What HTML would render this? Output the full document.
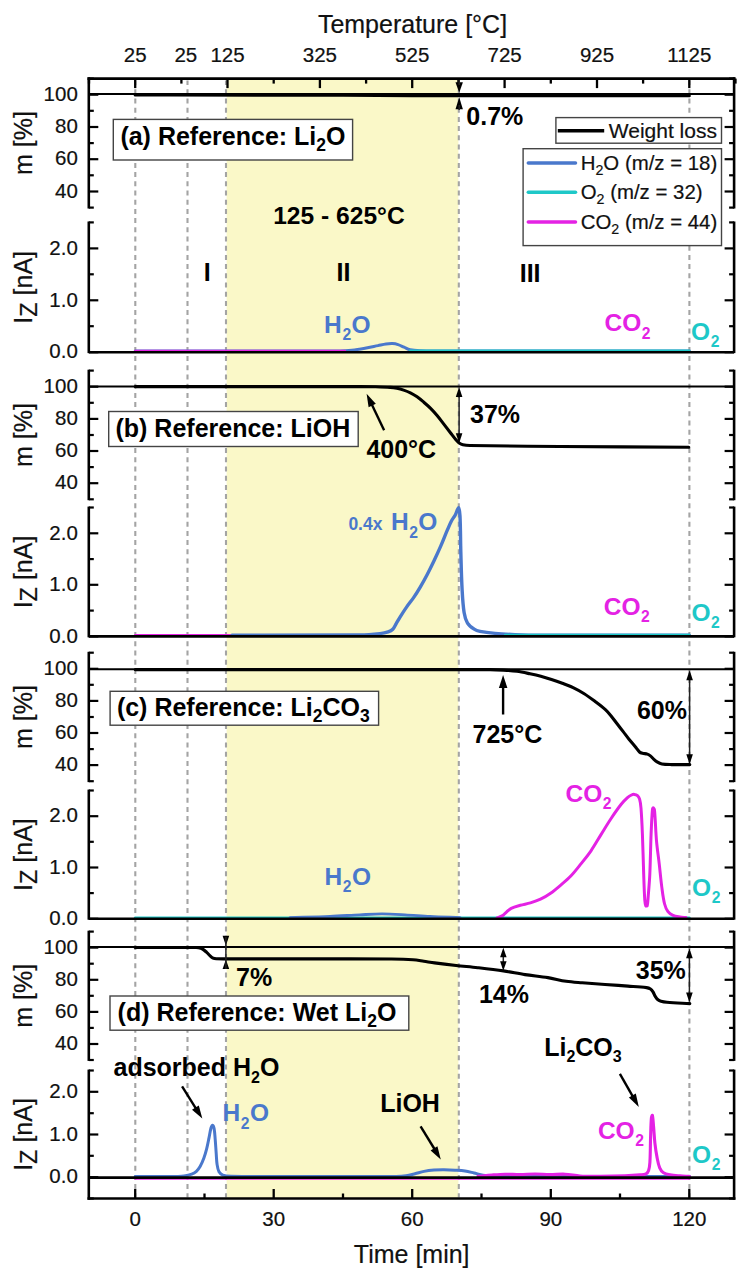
<!DOCTYPE html>
<html><head><meta charset="utf-8"><style>
html,body{margin:0;padding:0;background:#fff;}
body{width:743px;height:1280px;overflow:hidden;}
svg{display:block;font-family:"Liberation Sans",sans-serif;}
</style></head><body>
<svg width="743" height="1280" viewBox="0 0 743 1280">
<rect width="743" height="1280" fill="#fff"/>
<rect x="226.6" y="78.6" width="231.8" height="1119.9" fill="#FAF8C8"/>
<line x1="135.3" y1="80.6" x2="135.3" y2="1197.5" stroke="#a4a4a4" stroke-width="2.1" stroke-dasharray="5 4.2" stroke-dashoffset="0.5"/>
<line x1="187.5" y1="80.6" x2="187.5" y2="1197.5" stroke="#a4a4a4" stroke-width="2.1" stroke-dasharray="5 4.2" stroke-dashoffset="0.5"/>
<line x1="226.0" y1="80.6" x2="226.0" y2="1197.5" stroke="#a4a4a4" stroke-width="2.1" stroke-dasharray="5 4.2" stroke-dashoffset="0.5"/>
<line x1="458.8" y1="80.6" x2="458.8" y2="1197.5" stroke="#a4a4a4" stroke-width="2.1" stroke-dasharray="5 4.2" stroke-dashoffset="0.5"/>
<line x1="689.4" y1="80.6" x2="689.4" y2="1197.5" stroke="#a4a4a4" stroke-width="2.1" stroke-dasharray="5 4.2" stroke-dashoffset="0.5"/>
<path d="M135.2,351.0 C203.47,351.00 271.74,351.25 340.0,351.0 C344.01,350.99 348.02,350.65 352.0,350.2 C356.35,349.71 360.68,348.96 365.0,348.2 C369.35,347.43 373.67,346.47 378.0,345.6 C380.67,345.07 383.31,344.37 386.0,344.0 C388.18,343.70 390.41,343.49 392.6,343.6 C394.41,343.69 396.27,344.05 398.0,344.6 C400.07,345.25 402.00,346.33 404.0,347.2 C406.00,348.07 407.90,349.33 410.0,349.8 C413.23,350.53 416.66,350.67 420.0,350.8 C426.66,351.07 433.33,351.00 440.0,351.0 C523.10,351.06 606.20,351.00 689.3,351.0" fill="none" stroke="#4A78CC" stroke-width="3.0" stroke-linejoin="round" stroke-linecap="round" />
<path d="M135.2,351.0 L345.0,351.0" fill="none" stroke="#E422E4" stroke-width="2.4" stroke-linejoin="round" stroke-linecap="round" />
<path d="M410.0,350.8 L689.3,350.8" fill="none" stroke="#1EC8C8" stroke-width="2.4" stroke-linejoin="round" stroke-linecap="round" />
<path d="M135.2,635.2 L232.0,635.2" fill="none" stroke="#E422E4" stroke-width="2.4" stroke-linejoin="round" stroke-linecap="round" />
<path d="M232.0,635.2 C274.67,635.13 317.35,635.46 360.0,635.0 C366.68,634.93 373.37,634.33 380.0,633.6 C382.74,633.30 385.52,632.79 388.1,631.9 C389.79,631.32 391.58,630.45 392.8,629.2 C394.28,627.69 395.08,625.48 396.2,623.6 C397.55,621.34 398.80,619.02 400.2,616.8 C402.37,613.36 404.57,609.93 406.9,606.6 C409.04,603.53 411.49,600.69 413.6,597.6 C415.99,594.09 418.24,590.46 420.4,586.8 C422.74,582.83 424.96,578.78 427.1,574.7 C429.43,570.25 431.64,565.73 433.8,561.2 C436.14,556.30 438.43,551.38 440.6,546.4 C442.93,541.04 445.02,535.58 447.3,530.2 C448.58,527.18 449.78,524.10 451.3,521.2 C452.48,518.94 454.19,516.95 455.4,514.7 C456.62,512.42 457.88,507.36 458.6,507.6 C459.41,507.86 459.85,513.30 460.0,516.2 C460.59,527.84 460.47,539.54 460.8,551.2 C461.17,563.97 461.41,576.75 462.1,589.5 C462.51,597.15 462.89,604.88 464.1,612.4 C464.69,616.08 465.64,620.00 467.5,623.1 C469.00,625.60 471.73,627.56 474.2,629.2 C475.89,630.32 477.98,630.99 480.0,631.4 C484.92,632.39 489.98,632.94 495.0,633.4 C501.65,634.01 508.33,634.33 515.0,634.6 C523.33,634.93 531.66,635.17 540.0,635.2 C589.76,635.37 639.53,635.20 689.3,635.2" fill="none" stroke="#4A78CC" stroke-width="3.4" stroke-linejoin="round" stroke-linecap="round" />
<path d="M505.0,634.9 L689.3,634.9" fill="none" stroke="#1EC8C8" stroke-width="2.4" stroke-linejoin="round" stroke-linecap="round" />
<path d="M135.2,917.6 L689.3,917.6" fill="none" stroke="#1EC8C8" stroke-width="2.4" stroke-linejoin="round" stroke-linecap="round" />
<path d="M290.0,917.6 C303.33,917.20 316.67,916.93 330.0,916.4 C340.01,916.00 350.00,915.28 360.0,914.8 C367.33,914.45 374.67,913.90 382.0,913.9 C389.67,913.90 397.34,914.40 405.0,914.8 C413.34,915.23 421.66,915.98 430.0,916.4 C439.99,916.91 450.00,917.20 460.0,917.6" fill="none" stroke="#4A78CC" stroke-width="2.8" stroke-linejoin="round" stroke-linecap="round" />
<path d="M497.0,917.8 C499.00,917.00 501.18,916.49 503.0,915.4 C504.25,914.65 505.08,913.27 506.2,912.3 C507.81,910.90 509.32,909.23 511.2,908.3 C514.02,906.90 517.23,906.16 520.3,905.3 C523.63,904.36 527.09,903.90 530.4,902.9 C533.83,901.87 537.28,900.75 540.5,899.2 C544.01,897.51 547.40,895.44 550.6,893.2 C554.13,890.74 557.42,887.90 560.7,885.1 C564.15,882.16 567.68,879.27 570.8,876.0 C574.42,872.21 577.61,868.00 580.9,863.9 C584.35,859.60 587.89,855.34 591.0,850.8 C594.59,845.57 597.65,839.99 601.0,834.6 C604.35,829.22 607.59,823.77 611.1,818.5 C614.32,813.67 617.61,808.85 621.2,804.3 C623.08,801.92 625.25,799.73 627.5,797.7 C628.69,796.63 630.08,795.69 631.5,795.0 C632.34,794.59 633.39,794.29 634.3,794.4 C635.39,794.53 636.69,794.97 637.5,795.7 C638.46,796.57 639.24,797.91 639.6,799.2 C640.41,802.08 640.76,805.18 641.0,808.2 C641.69,816.78 642.05,825.39 642.4,834.0 C642.95,847.46 643.21,860.94 643.7,874.4 C644.01,883.00 644.23,891.62 644.8,900.2 C644.93,902.09 645.16,904.30 645.8,905.8 C645.96,906.17 647.10,906.21 647.2,905.8 C647.94,902.68 648.01,898.74 648.3,895.2 C648.87,888.27 649.48,881.34 649.8,874.4 C650.42,860.94 650.55,847.46 651.1,834.0 C651.42,826.06 651.74,818.09 652.4,810.2 C652.47,809.35 652.96,807.80 653.3,807.8 C653.66,807.80 654.41,809.31 654.5,810.2 C655.48,820.31 655.60,830.62 656.5,840.8 C657.17,848.42 658.33,856.00 659.2,863.6 C660.13,871.70 660.82,879.82 661.9,887.9 C662.62,893.29 663.26,898.77 664.6,904.0 C665.29,906.70 666.39,909.51 668.0,911.7 C669.19,913.31 671.14,914.58 673.0,915.4 C675.14,916.35 677.64,916.60 680.0,917.0 C681.98,917.33 684.00,917.40 686.0,917.6" fill="none" stroke="#E422E4" stroke-width="3.0" stroke-linejoin="round" stroke-linecap="round" />
<path d="M135.2,1178.8 L689.3,1178.8" fill="none" stroke="#E422E4" stroke-width="2.0" stroke-linejoin="round" stroke-linecap="round" />
<path d="M135.2,1176.4 C149.47,1176.40 163.74,1176.52 178.0,1176.4 C180.04,1176.38 182.10,1176.34 184.1,1176.0 C186.67,1175.57 189.29,1175.02 191.7,1174.1 C193.39,1173.46 195.06,1172.49 196.4,1171.3 C197.86,1169.99 199.12,1168.32 200.1,1166.6 C201.62,1163.92 202.83,1161.01 203.9,1158.1 C205.03,1155.04 205.90,1151.87 206.7,1148.7 C207.64,1144.97 208.32,1141.17 209.1,1137.4 C209.75,1134.27 210.13,1131.04 211.0,1128.0 C211.29,1126.98 212.11,1125.12 212.6,1125.2 C213.15,1125.29 213.88,1127.32 214.1,1128.5 C214.75,1132.02 214.90,1135.69 215.2,1139.3 C215.60,1143.99 215.85,1148.70 216.2,1153.4 C216.48,1157.13 216.54,1160.91 217.1,1164.6 C217.47,1167.04 217.87,1169.71 219.0,1171.8 C219.77,1173.21 221.28,1174.55 222.8,1175.1 C225.35,1176.02 228.38,1176.15 231.2,1176.2 C254.11,1176.59 277.07,1176.37 300.0,1176.4 C332.00,1176.44 364.01,1176.58 396.0,1176.4 C399.34,1176.38 402.70,1176.25 406.0,1175.8 C409.04,1175.38 412.02,1174.53 415.0,1173.8 C418.02,1173.06 420.96,1171.99 424.0,1171.4 C427.29,1170.76 430.65,1170.37 434.0,1170.1 C437.32,1169.83 440.67,1169.78 444.0,1169.8 C447.67,1169.82 451.34,1169.99 455.0,1170.2 C458.34,1170.39 461.70,1170.51 465.0,1171.0 C468.03,1171.45 471.01,1172.30 474.0,1173.0 C477.01,1173.70 479.96,1174.71 483.0,1175.2 C486.96,1175.84 490.98,1176.38 495.0,1176.4 C559.75,1176.78 624.53,1176.40 689.3,1176.4" fill="none" stroke="#4A78CC" stroke-width="3.0" stroke-linejoin="round" stroke-linecap="round" />
<path d="M478.0,1176.4 C482.67,1175.93 487.33,1175.38 492.0,1175.0 C496.33,1174.65 500.66,1174.26 505.0,1174.2 C510.00,1174.13 515.00,1174.63 520.0,1174.6 C525.00,1174.57 530.00,1174.00 535.0,1174.0 C540.00,1174.00 545.00,1174.57 550.0,1174.6 C555.00,1174.63 560.02,1173.97 565.0,1174.2 C570.02,1174.43 574.98,1175.70 580.0,1176.0 C586.65,1176.40 593.33,1176.33 600.0,1176.3 C608.33,1176.26 616.67,1176.11 625.0,1175.8 C630.01,1175.61 635.02,1175.27 640.0,1174.8 C642.02,1174.61 644.32,1174.66 646.0,1173.8 C647.18,1173.19 648.15,1171.71 648.6,1170.4 C649.45,1167.91 649.74,1165.09 649.9,1162.4 C650.41,1153.76 650.31,1145.06 650.6,1136.4 C650.81,1130.23 650.88,1124.01 651.4,1117.9 C651.48,1117.01 652.26,1114.83 652.4,1115.4 C652.99,1117.83 653.25,1123.06 653.6,1126.9 C654.09,1132.30 654.29,1137.72 654.9,1143.1 C655.43,1147.79 656.10,1152.47 657.0,1157.1 C657.70,1160.71 658.31,1164.47 659.7,1167.8 C660.48,1169.67 661.87,1171.59 663.5,1172.7 C665.30,1173.92 667.78,1174.37 670.0,1174.8 C673.28,1175.44 676.66,1175.62 680.0,1175.9 C683.09,1176.16 686.20,1176.23 689.3,1176.4" fill="none" stroke="#E422E4" stroke-width="3.1" stroke-linejoin="round" stroke-linecap="round" />
<line x1="88.8" y1="352.2" x2="734.1" y2="352.2" stroke="#000" stroke-width="2.6"/>
<line x1="88.8" y1="636.4" x2="734.1" y2="636.4" stroke="#000" stroke-width="2.6"/>
<line x1="88.8" y1="918.8" x2="734.1" y2="918.8" stroke="#000" stroke-width="2.6"/>
<line x1="88.8" y1="1177.6" x2="734.1" y2="1177.6" stroke="#000" stroke-width="2.6"/>
<line x1="88.8" y1="94.0" x2="734.1" y2="94.0" stroke="#000" stroke-width="2.1"/>
<line x1="88.8" y1="386.5" x2="734.1" y2="386.5" stroke="#000" stroke-width="2.1"/>
<line x1="88.8" y1="669.3" x2="734.1" y2="669.3" stroke="#000" stroke-width="2.1"/>
<line x1="88.8" y1="947.0" x2="734.1" y2="947.0" stroke="#000" stroke-width="2.1"/>
<path d="M135.2,95.0 C181.37,95.03 227.55,95.03 273.7,95.1 C296.81,95.13 319.90,95.22 343.0,95.3 C366.08,95.38 389.16,95.50 412.2,95.6 C427.64,95.67 443.03,95.79 458.4,95.8 C535.38,95.86 612.34,95.80 689.3,95.8" fill="none" stroke="#000" stroke-width="3.1" stroke-linejoin="round" stroke-linecap="round" />
<path d="M135.2,386.6 C210.13,386.60 285.07,386.54 360.0,386.6 C365.00,386.60 370.00,386.67 375.0,386.8 C380.07,386.93 385.15,387.05 390.2,387.4 C392.45,387.55 394.70,387.86 396.9,388.3 C399.16,388.76 401.41,389.37 403.6,390.1 C405.91,390.87 408.22,391.72 410.4,392.8 C412.72,393.95 414.98,395.31 417.1,396.8 C419.44,398.44 421.62,400.34 423.8,402.2 C426.12,404.17 428.45,406.15 430.6,408.3 C432.95,410.65 435.17,413.14 437.3,415.7 C439.64,418.51 441.76,421.50 444.0,424.4 C446.26,427.34 448.52,430.28 450.8,433.2 C452.55,435.44 454.24,437.75 456.1,439.9 C457.14,441.11 458.22,442.38 459.5,443.3 C460.49,444.01 461.70,444.55 462.9,444.8 C465.20,445.28 467.62,445.46 470.0,445.5 C499.99,446.03 530.00,446.25 560.0,446.5 C602.93,446.85 645.87,447.03 688.8,447.3" fill="none" stroke="#000" stroke-width="3.1" stroke-linejoin="round" stroke-linecap="round" />
<path d="M135.2,669.6 C253.47,669.60 371.74,669.44 490.0,669.6 C494.50,669.61 499.01,669.82 503.5,670.1 C507.97,670.38 512.46,670.68 516.9,671.3 C521.30,671.91 525.65,672.89 530.0,673.8 C533.62,674.56 537.23,675.35 540.8,676.3 C544.40,677.25 547.96,678.35 551.5,679.5 C555.13,680.68 558.73,681.96 562.3,683.3 C565.93,684.66 569.61,685.94 573.1,687.6 C576.77,689.34 580.36,691.34 583.8,693.5 C587.52,695.84 591.07,698.47 594.6,701.1 C598.27,703.84 602.00,706.55 605.4,709.6 C607.50,711.48 609.30,713.72 611.1,715.9 C613.20,718.45 615.08,721.18 617.1,723.8 C619.11,726.41 621.19,728.99 623.2,731.6 C625.22,734.22 627.14,736.91 629.2,739.5 C631.17,741.98 633.28,744.35 635.3,746.8 C636.72,748.52 637.89,750.55 639.5,752.0 C640.29,752.71 641.45,753.02 642.5,753.3 C644.09,753.72 645.86,753.59 647.4,754.1 C648.49,754.46 649.50,755.18 650.4,755.9 C651.50,756.78 652.35,757.96 653.4,758.9 C654.58,759.96 655.75,761.09 657.1,761.9 C658.58,762.79 660.21,763.68 661.9,764.0 C665.04,764.58 668.36,764.53 671.6,764.6 C677.66,764.73 683.73,764.60 689.8,764.6" fill="none" stroke="#000" stroke-width="3.1" stroke-linejoin="round" stroke-linecap="round" />
<path d="M135.2,947.5 C155.47,947.50 175.74,947.44 196.0,947.5 C196.87,947.50 197.76,947.50 198.6,947.7 C199.96,948.03 201.40,948.40 202.6,949.1 C204.10,949.97 205.39,951.24 206.7,952.4 C207.82,953.40 208.78,954.60 209.9,955.6 C210.91,956.50 211.92,957.51 213.1,958.1 C214.05,958.58 215.21,958.75 216.3,958.8 C220.85,959.02 225.43,958.89 230.0,958.9 C253.33,958.93 276.67,958.89 300.0,958.9 C330.50,958.92 361.00,958.78 391.5,959.0 C398.70,959.05 405.92,959.21 413.1,959.7 C416.69,959.94 420.24,960.67 423.8,961.2 C427.40,961.74 430.99,962.42 434.6,962.9 C441.75,963.85 448.93,964.70 456.1,965.5 C463.29,966.30 470.51,966.88 477.7,967.7 C486.31,968.68 494.93,969.65 503.5,970.9 C510.69,971.95 517.81,973.52 525.0,974.6 C532.61,975.75 540.31,976.37 547.9,977.6 C554.04,978.60 560.06,980.37 566.2,981.3 C571.49,982.10 576.86,982.36 582.2,982.8 C589.83,983.43 597.47,983.95 605.1,984.5 C612.73,985.05 620.37,985.53 628.0,986.1 C634.17,986.56 640.39,986.81 646.5,987.6 C647.89,987.78 649.35,988.26 650.5,989.0 C651.52,989.66 652.33,990.76 653.0,991.8 C653.96,993.29 654.46,995.09 655.4,996.6 C656.12,997.76 656.97,998.94 658.0,999.8 C658.84,1000.50 659.93,1001.00 661.0,1001.3 C662.90,1001.83 664.91,1002.14 666.9,1002.3 C674.51,1002.91 682.17,1003.17 689.8,1003.6" fill="none" stroke="#000" stroke-width="3.1" stroke-linejoin="round" stroke-linecap="round" />
<line x1="88.8" y1="77.3" x2="88.8" y2="208.5" stroke="#000" stroke-width="2.6"/>
<line x1="734.1" y1="77.3" x2="734.1" y2="208.5" stroke="#000" stroke-width="2.6"/>
<line x1="88.8" y1="191.5" x2="98.3" y2="191.5" stroke="#000" stroke-width="2.2"/>
<line x1="734.1" y1="191.5" x2="724.6" y2="191.5" stroke="#000" stroke-width="2.2"/>
<line x1="88.8" y1="159.2" x2="98.3" y2="159.2" stroke="#000" stroke-width="2.2"/>
<line x1="734.1" y1="159.2" x2="724.6" y2="159.2" stroke="#000" stroke-width="2.2"/>
<line x1="88.8" y1="127.0" x2="98.3" y2="127.0" stroke="#000" stroke-width="2.2"/>
<line x1="734.1" y1="127.0" x2="724.6" y2="127.0" stroke="#000" stroke-width="2.2"/>
<line x1="88.8" y1="94.7" x2="98.3" y2="94.7" stroke="#000" stroke-width="2.2"/>
<line x1="734.1" y1="94.7" x2="724.6" y2="94.7" stroke="#000" stroke-width="2.2"/>
<line x1="88.8" y1="207.6" x2="93.8" y2="207.6" stroke="#000" stroke-width="2.2"/>
<line x1="734.1" y1="207.6" x2="729.1" y2="207.6" stroke="#000" stroke-width="2.2"/>
<line x1="88.8" y1="175.3" x2="93.8" y2="175.3" stroke="#000" stroke-width="2.2"/>
<line x1="734.1" y1="175.3" x2="729.1" y2="175.3" stroke="#000" stroke-width="2.2"/>
<line x1="88.8" y1="143.1" x2="93.8" y2="143.1" stroke="#000" stroke-width="2.2"/>
<line x1="734.1" y1="143.1" x2="729.1" y2="143.1" stroke="#000" stroke-width="2.2"/>
<line x1="88.8" y1="110.8" x2="93.8" y2="110.8" stroke="#000" stroke-width="2.2"/>
<line x1="734.1" y1="110.8" x2="729.1" y2="110.8" stroke="#000" stroke-width="2.2"/>
<line x1="88.8" y1="78.6" x2="93.8" y2="78.6" stroke="#000" stroke-width="2.2"/>
<line x1="734.1" y1="78.6" x2="729.1" y2="78.6" stroke="#000" stroke-width="2.2"/>
<line x1="88.8" y1="221.5" x2="88.8" y2="353.1" stroke="#000" stroke-width="2.6"/>
<line x1="734.1" y1="221.5" x2="734.1" y2="353.1" stroke="#000" stroke-width="2.6"/>
<line x1="88.8" y1="352.2" x2="98.3" y2="352.2" stroke="#000" stroke-width="2.2"/>
<line x1="734.1" y1="352.2" x2="724.6" y2="352.2" stroke="#000" stroke-width="2.2"/>
<line x1="88.8" y1="300.3" x2="98.3" y2="300.3" stroke="#000" stroke-width="2.2"/>
<line x1="734.1" y1="300.3" x2="724.6" y2="300.3" stroke="#000" stroke-width="2.2"/>
<line x1="88.8" y1="248.4" x2="98.3" y2="248.4" stroke="#000" stroke-width="2.2"/>
<line x1="734.1" y1="248.4" x2="724.6" y2="248.4" stroke="#000" stroke-width="2.2"/>
<line x1="88.8" y1="326.2" x2="93.8" y2="326.2" stroke="#000" stroke-width="2.2"/>
<line x1="734.1" y1="326.2" x2="729.1" y2="326.2" stroke="#000" stroke-width="2.2"/>
<line x1="88.8" y1="274.3" x2="93.8" y2="274.3" stroke="#000" stroke-width="2.2"/>
<line x1="734.1" y1="274.3" x2="729.1" y2="274.3" stroke="#000" stroke-width="2.2"/>
<line x1="88.8" y1="222.4" x2="93.8" y2="222.4" stroke="#000" stroke-width="2.2"/>
<line x1="734.1" y1="222.4" x2="729.1" y2="222.4" stroke="#000" stroke-width="2.2"/>
<line x1="88.8" y1="369.7" x2="88.8" y2="500.2" stroke="#000" stroke-width="2.6"/>
<line x1="734.1" y1="369.7" x2="734.1" y2="500.2" stroke="#000" stroke-width="2.6"/>
<line x1="88.8" y1="483.2" x2="98.3" y2="483.2" stroke="#000" stroke-width="2.2"/>
<line x1="734.1" y1="483.2" x2="724.6" y2="483.2" stroke="#000" stroke-width="2.2"/>
<line x1="88.8" y1="451.0" x2="98.3" y2="451.0" stroke="#000" stroke-width="2.2"/>
<line x1="734.1" y1="451.0" x2="724.6" y2="451.0" stroke="#000" stroke-width="2.2"/>
<line x1="88.8" y1="418.9" x2="98.3" y2="418.9" stroke="#000" stroke-width="2.2"/>
<line x1="734.1" y1="418.9" x2="724.6" y2="418.9" stroke="#000" stroke-width="2.2"/>
<line x1="88.8" y1="386.7" x2="98.3" y2="386.7" stroke="#000" stroke-width="2.2"/>
<line x1="734.1" y1="386.7" x2="724.6" y2="386.7" stroke="#000" stroke-width="2.2"/>
<line x1="88.8" y1="499.3" x2="93.8" y2="499.3" stroke="#000" stroke-width="2.2"/>
<line x1="734.1" y1="499.3" x2="729.1" y2="499.3" stroke="#000" stroke-width="2.2"/>
<line x1="88.8" y1="467.1" x2="93.8" y2="467.1" stroke="#000" stroke-width="2.2"/>
<line x1="734.1" y1="467.1" x2="729.1" y2="467.1" stroke="#000" stroke-width="2.2"/>
<line x1="88.8" y1="435.0" x2="93.8" y2="435.0" stroke="#000" stroke-width="2.2"/>
<line x1="734.1" y1="435.0" x2="729.1" y2="435.0" stroke="#000" stroke-width="2.2"/>
<line x1="88.8" y1="402.8" x2="93.8" y2="402.8" stroke="#000" stroke-width="2.2"/>
<line x1="734.1" y1="402.8" x2="729.1" y2="402.8" stroke="#000" stroke-width="2.2"/>
<line x1="88.8" y1="370.6" x2="93.8" y2="370.6" stroke="#000" stroke-width="2.2"/>
<line x1="734.1" y1="370.6" x2="729.1" y2="370.6" stroke="#000" stroke-width="2.2"/>
<line x1="88.8" y1="506.6" x2="88.8" y2="637.3" stroke="#000" stroke-width="2.6"/>
<line x1="734.1" y1="506.6" x2="734.1" y2="637.3" stroke="#000" stroke-width="2.6"/>
<line x1="88.8" y1="636.4" x2="98.3" y2="636.4" stroke="#000" stroke-width="2.2"/>
<line x1="734.1" y1="636.4" x2="724.6" y2="636.4" stroke="#000" stroke-width="2.2"/>
<line x1="88.8" y1="584.8" x2="98.3" y2="584.8" stroke="#000" stroke-width="2.2"/>
<line x1="734.1" y1="584.8" x2="724.6" y2="584.8" stroke="#000" stroke-width="2.2"/>
<line x1="88.8" y1="533.3" x2="98.3" y2="533.3" stroke="#000" stroke-width="2.2"/>
<line x1="734.1" y1="533.3" x2="724.6" y2="533.3" stroke="#000" stroke-width="2.2"/>
<line x1="88.8" y1="610.6" x2="93.8" y2="610.6" stroke="#000" stroke-width="2.2"/>
<line x1="734.1" y1="610.6" x2="729.1" y2="610.6" stroke="#000" stroke-width="2.2"/>
<line x1="88.8" y1="559.1" x2="93.8" y2="559.1" stroke="#000" stroke-width="2.2"/>
<line x1="734.1" y1="559.1" x2="729.1" y2="559.1" stroke="#000" stroke-width="2.2"/>
<line x1="88.8" y1="507.5" x2="93.8" y2="507.5" stroke="#000" stroke-width="2.2"/>
<line x1="734.1" y1="507.5" x2="729.1" y2="507.5" stroke="#000" stroke-width="2.2"/>
<line x1="88.8" y1="651.8" x2="88.8" y2="782.1" stroke="#000" stroke-width="2.6"/>
<line x1="734.1" y1="651.8" x2="734.1" y2="782.1" stroke="#000" stroke-width="2.6"/>
<line x1="88.8" y1="765.1" x2="98.3" y2="765.1" stroke="#000" stroke-width="2.2"/>
<line x1="734.1" y1="765.1" x2="724.6" y2="765.1" stroke="#000" stroke-width="2.2"/>
<line x1="88.8" y1="733.0" x2="98.3" y2="733.0" stroke="#000" stroke-width="2.2"/>
<line x1="734.1" y1="733.0" x2="724.6" y2="733.0" stroke="#000" stroke-width="2.2"/>
<line x1="88.8" y1="700.9" x2="98.3" y2="700.9" stroke="#000" stroke-width="2.2"/>
<line x1="734.1" y1="700.9" x2="724.6" y2="700.9" stroke="#000" stroke-width="2.2"/>
<line x1="88.8" y1="668.8" x2="98.3" y2="668.8" stroke="#000" stroke-width="2.2"/>
<line x1="734.1" y1="668.8" x2="724.6" y2="668.8" stroke="#000" stroke-width="2.2"/>
<line x1="88.8" y1="781.2" x2="93.8" y2="781.2" stroke="#000" stroke-width="2.2"/>
<line x1="734.1" y1="781.2" x2="729.1" y2="781.2" stroke="#000" stroke-width="2.2"/>
<line x1="88.8" y1="749.1" x2="93.8" y2="749.1" stroke="#000" stroke-width="2.2"/>
<line x1="734.1" y1="749.1" x2="729.1" y2="749.1" stroke="#000" stroke-width="2.2"/>
<line x1="88.8" y1="717.0" x2="93.8" y2="717.0" stroke="#000" stroke-width="2.2"/>
<line x1="734.1" y1="717.0" x2="729.1" y2="717.0" stroke="#000" stroke-width="2.2"/>
<line x1="88.8" y1="684.8" x2="93.8" y2="684.8" stroke="#000" stroke-width="2.2"/>
<line x1="734.1" y1="684.8" x2="729.1" y2="684.8" stroke="#000" stroke-width="2.2"/>
<line x1="88.8" y1="652.7" x2="93.8" y2="652.7" stroke="#000" stroke-width="2.2"/>
<line x1="734.1" y1="652.7" x2="729.1" y2="652.7" stroke="#000" stroke-width="2.2"/>
<line x1="88.8" y1="789.6" x2="88.8" y2="919.7" stroke="#000" stroke-width="2.6"/>
<line x1="734.1" y1="789.6" x2="734.1" y2="919.7" stroke="#000" stroke-width="2.6"/>
<line x1="88.8" y1="918.8" x2="98.3" y2="918.8" stroke="#000" stroke-width="2.2"/>
<line x1="734.1" y1="918.8" x2="724.6" y2="918.8" stroke="#000" stroke-width="2.2"/>
<line x1="88.8" y1="867.5" x2="98.3" y2="867.5" stroke="#000" stroke-width="2.2"/>
<line x1="734.1" y1="867.5" x2="724.6" y2="867.5" stroke="#000" stroke-width="2.2"/>
<line x1="88.8" y1="816.2" x2="98.3" y2="816.2" stroke="#000" stroke-width="2.2"/>
<line x1="734.1" y1="816.2" x2="724.6" y2="816.2" stroke="#000" stroke-width="2.2"/>
<line x1="88.8" y1="893.1" x2="93.8" y2="893.1" stroke="#000" stroke-width="2.2"/>
<line x1="734.1" y1="893.1" x2="729.1" y2="893.1" stroke="#000" stroke-width="2.2"/>
<line x1="88.8" y1="841.8" x2="93.8" y2="841.8" stroke="#000" stroke-width="2.2"/>
<line x1="734.1" y1="841.8" x2="729.1" y2="841.8" stroke="#000" stroke-width="2.2"/>
<line x1="88.8" y1="790.5" x2="93.8" y2="790.5" stroke="#000" stroke-width="2.2"/>
<line x1="734.1" y1="790.5" x2="729.1" y2="790.5" stroke="#000" stroke-width="2.2"/>
<line x1="88.8" y1="930.7" x2="88.8" y2="1060.9" stroke="#000" stroke-width="2.6"/>
<line x1="734.1" y1="930.7" x2="734.1" y2="1060.9" stroke="#000" stroke-width="2.6"/>
<line x1="88.8" y1="1044.0" x2="98.3" y2="1044.0" stroke="#000" stroke-width="2.2"/>
<line x1="734.1" y1="1044.0" x2="724.6" y2="1044.0" stroke="#000" stroke-width="2.2"/>
<line x1="88.8" y1="1011.9" x2="98.3" y2="1011.9" stroke="#000" stroke-width="2.2"/>
<line x1="734.1" y1="1011.9" x2="724.6" y2="1011.9" stroke="#000" stroke-width="2.2"/>
<line x1="88.8" y1="979.8" x2="98.3" y2="979.8" stroke="#000" stroke-width="2.2"/>
<line x1="734.1" y1="979.8" x2="724.6" y2="979.8" stroke="#000" stroke-width="2.2"/>
<line x1="88.8" y1="947.6" x2="98.3" y2="947.6" stroke="#000" stroke-width="2.2"/>
<line x1="734.1" y1="947.6" x2="724.6" y2="947.6" stroke="#000" stroke-width="2.2"/>
<line x1="88.8" y1="1060.0" x2="93.8" y2="1060.0" stroke="#000" stroke-width="2.2"/>
<line x1="734.1" y1="1060.0" x2="729.1" y2="1060.0" stroke="#000" stroke-width="2.2"/>
<line x1="88.8" y1="1027.9" x2="93.8" y2="1027.9" stroke="#000" stroke-width="2.2"/>
<line x1="734.1" y1="1027.9" x2="729.1" y2="1027.9" stroke="#000" stroke-width="2.2"/>
<line x1="88.8" y1="995.8" x2="93.8" y2="995.8" stroke="#000" stroke-width="2.2"/>
<line x1="734.1" y1="995.8" x2="729.1" y2="995.8" stroke="#000" stroke-width="2.2"/>
<line x1="88.8" y1="963.7" x2="93.8" y2="963.7" stroke="#000" stroke-width="2.2"/>
<line x1="734.1" y1="963.7" x2="729.1" y2="963.7" stroke="#000" stroke-width="2.2"/>
<line x1="88.8" y1="931.6" x2="93.8" y2="931.6" stroke="#000" stroke-width="2.2"/>
<line x1="734.1" y1="931.6" x2="729.1" y2="931.6" stroke="#000" stroke-width="2.2"/>
<line x1="88.8" y1="1069.6" x2="88.8" y2="1199.8" stroke="#000" stroke-width="2.6"/>
<line x1="734.1" y1="1069.6" x2="734.1" y2="1199.8" stroke="#000" stroke-width="2.6"/>
<line x1="88.8" y1="1177.2" x2="98.3" y2="1177.2" stroke="#000" stroke-width="2.2"/>
<line x1="734.1" y1="1177.2" x2="724.6" y2="1177.2" stroke="#000" stroke-width="2.2"/>
<line x1="88.8" y1="1134.5" x2="98.3" y2="1134.5" stroke="#000" stroke-width="2.2"/>
<line x1="734.1" y1="1134.5" x2="724.6" y2="1134.5" stroke="#000" stroke-width="2.2"/>
<line x1="88.8" y1="1091.8" x2="98.3" y2="1091.8" stroke="#000" stroke-width="2.2"/>
<line x1="734.1" y1="1091.8" x2="724.6" y2="1091.8" stroke="#000" stroke-width="2.2"/>
<line x1="88.8" y1="1155.8" x2="93.8" y2="1155.8" stroke="#000" stroke-width="2.2"/>
<line x1="734.1" y1="1155.8" x2="729.1" y2="1155.8" stroke="#000" stroke-width="2.2"/>
<line x1="88.8" y1="1113.2" x2="93.8" y2="1113.2" stroke="#000" stroke-width="2.2"/>
<line x1="734.1" y1="1113.2" x2="729.1" y2="1113.2" stroke="#000" stroke-width="2.2"/>
<line x1="88.8" y1="1070.5" x2="93.8" y2="1070.5" stroke="#000" stroke-width="2.2"/>
<line x1="734.1" y1="1070.5" x2="729.1" y2="1070.5" stroke="#000" stroke-width="2.2"/>
<line x1="88.8" y1="1198.5" x2="93.8" y2="1198.5" stroke="#000" stroke-width="2.2"/>
<line x1="734.1" y1="1198.5" x2="729.1" y2="1198.5" stroke="#000" stroke-width="2.2"/>
<line x1="87.5" y1="78.6" x2="735.4" y2="78.6" stroke="#000" stroke-width="2.6"/>
<line x1="89.0" y1="78.6" x2="89.0" y2="83.6" stroke="#000" stroke-width="2.3"/>
<line x1="135.2" y1="78.6" x2="135.2" y2="88.1" stroke="#000" stroke-width="2.3"/>
<line x1="181.4" y1="78.6" x2="181.4" y2="83.6" stroke="#000" stroke-width="2.3"/>
<line x1="227.5" y1="78.6" x2="227.5" y2="88.1" stroke="#000" stroke-width="2.3"/>
<line x1="273.7" y1="78.6" x2="273.7" y2="83.6" stroke="#000" stroke-width="2.3"/>
<line x1="319.9" y1="78.6" x2="319.9" y2="88.1" stroke="#000" stroke-width="2.3"/>
<line x1="366.1" y1="78.6" x2="366.1" y2="83.6" stroke="#000" stroke-width="2.3"/>
<line x1="412.2" y1="78.6" x2="412.2" y2="88.1" stroke="#000" stroke-width="2.3"/>
<line x1="458.4" y1="78.6" x2="458.4" y2="83.6" stroke="#000" stroke-width="2.3"/>
<line x1="504.6" y1="78.6" x2="504.6" y2="88.1" stroke="#000" stroke-width="2.3"/>
<line x1="550.8" y1="78.6" x2="550.8" y2="83.6" stroke="#000" stroke-width="2.3"/>
<line x1="597.0" y1="78.6" x2="597.0" y2="88.1" stroke="#000" stroke-width="2.3"/>
<line x1="643.1" y1="78.6" x2="643.1" y2="83.6" stroke="#000" stroke-width="2.3"/>
<line x1="689.3" y1="78.6" x2="689.3" y2="88.1" stroke="#000" stroke-width="2.3"/>
<line x1="735.5" y1="78.6" x2="735.5" y2="83.6" stroke="#000" stroke-width="2.3"/>
<line x1="87.5" y1="1198.5" x2="735.4" y2="1198.5" stroke="#000" stroke-width="2.6"/>
<line x1="135.2" y1="1198.5" x2="135.2" y2="1189.0" stroke="#000" stroke-width="2.3"/>
<line x1="204.5" y1="1198.5" x2="204.5" y2="1193.5" stroke="#000" stroke-width="2.3"/>
<line x1="273.7" y1="1198.5" x2="273.7" y2="1189.0" stroke="#000" stroke-width="2.3"/>
<line x1="343.0" y1="1198.5" x2="343.0" y2="1193.5" stroke="#000" stroke-width="2.3"/>
<line x1="412.2" y1="1198.5" x2="412.2" y2="1189.0" stroke="#000" stroke-width="2.3"/>
<line x1="481.5" y1="1198.5" x2="481.5" y2="1193.5" stroke="#000" stroke-width="2.3"/>
<line x1="550.8" y1="1198.5" x2="550.8" y2="1189.0" stroke="#000" stroke-width="2.3"/>
<line x1="620.0" y1="1198.5" x2="620.0" y2="1193.5" stroke="#000" stroke-width="2.3"/>
<line x1="689.3" y1="1198.5" x2="689.3" y2="1189.0" stroke="#000" stroke-width="2.3"/>
<text x="77.8" y="197.7" font-size="20.5" font-weight="normal" text-anchor="end" fill="#111" stroke="#111" stroke-width="0.2" >40</text>
<text x="77.8" y="165.4" font-size="20.5" font-weight="normal" text-anchor="end" fill="#111" stroke="#111" stroke-width="0.2" >60</text>
<text x="77.8" y="133.2" font-size="20.5" font-weight="normal" text-anchor="end" fill="#111" stroke="#111" stroke-width="0.2" >80</text>
<text x="77.8" y="100.9" font-size="20.5" font-weight="normal" text-anchor="end" fill="#111" stroke="#111" stroke-width="0.2" >100</text>
<text x="77.8" y="358.4" font-size="20.5" font-weight="normal" text-anchor="end" fill="#111" stroke="#111" stroke-width="0.2" >0.0</text>
<text x="77.8" y="306.5" font-size="20.5" font-weight="normal" text-anchor="end" fill="#111" stroke="#111" stroke-width="0.2" >1.0</text>
<text x="77.8" y="254.6" font-size="20.5" font-weight="normal" text-anchor="end" fill="#111" stroke="#111" stroke-width="0.2" >2.0</text>
<text x="77.8" y="489.4" font-size="20.5" font-weight="normal" text-anchor="end" fill="#111" stroke="#111" stroke-width="0.2" >40</text>
<text x="77.8" y="457.2" font-size="20.5" font-weight="normal" text-anchor="end" fill="#111" stroke="#111" stroke-width="0.2" >60</text>
<text x="77.8" y="425.1" font-size="20.5" font-weight="normal" text-anchor="end" fill="#111" stroke="#111" stroke-width="0.2" >80</text>
<text x="77.8" y="392.9" font-size="20.5" font-weight="normal" text-anchor="end" fill="#111" stroke="#111" stroke-width="0.2" >100</text>
<text x="77.8" y="642.6" font-size="20.5" font-weight="normal" text-anchor="end" fill="#111" stroke="#111" stroke-width="0.2" >0.0</text>
<text x="77.8" y="591.0" font-size="20.5" font-weight="normal" text-anchor="end" fill="#111" stroke="#111" stroke-width="0.2" >1.0</text>
<text x="77.8" y="539.5" font-size="20.5" font-weight="normal" text-anchor="end" fill="#111" stroke="#111" stroke-width="0.2" >2.0</text>
<text x="77.8" y="771.3" font-size="20.5" font-weight="normal" text-anchor="end" fill="#111" stroke="#111" stroke-width="0.2" >40</text>
<text x="77.8" y="739.2" font-size="20.5" font-weight="normal" text-anchor="end" fill="#111" stroke="#111" stroke-width="0.2" >60</text>
<text x="77.8" y="707.1" font-size="20.5" font-weight="normal" text-anchor="end" fill="#111" stroke="#111" stroke-width="0.2" >80</text>
<text x="77.8" y="675.0" font-size="20.5" font-weight="normal" text-anchor="end" fill="#111" stroke="#111" stroke-width="0.2" >100</text>
<text x="77.8" y="925.0" font-size="20.5" font-weight="normal" text-anchor="end" fill="#111" stroke="#111" stroke-width="0.2" >0.0</text>
<text x="77.8" y="873.7" font-size="20.5" font-weight="normal" text-anchor="end" fill="#111" stroke="#111" stroke-width="0.2" >1.0</text>
<text x="77.8" y="822.4" font-size="20.5" font-weight="normal" text-anchor="end" fill="#111" stroke="#111" stroke-width="0.2" >2.0</text>
<text x="77.8" y="1050.2" font-size="20.5" font-weight="normal" text-anchor="end" fill="#111" stroke="#111" stroke-width="0.2" >40</text>
<text x="77.8" y="1018.1" font-size="20.5" font-weight="normal" text-anchor="end" fill="#111" stroke="#111" stroke-width="0.2" >60</text>
<text x="77.8" y="986.0" font-size="20.5" font-weight="normal" text-anchor="end" fill="#111" stroke="#111" stroke-width="0.2" >80</text>
<text x="77.8" y="953.9" font-size="20.5" font-weight="normal" text-anchor="end" fill="#111" stroke="#111" stroke-width="0.2" >100</text>
<text x="77.8" y="1183.4" font-size="20.5" font-weight="normal" text-anchor="end" fill="#111" stroke="#111" stroke-width="0.2" >0.0</text>
<text x="77.8" y="1140.7" font-size="20.5" font-weight="normal" text-anchor="end" fill="#111" stroke="#111" stroke-width="0.2" >1.0</text>
<text x="77.8" y="1098.0" font-size="20.5" font-weight="normal" text-anchor="end" fill="#111" stroke="#111" stroke-width="0.2" >2.0</text>
<text x="135.2" y="1225.9" font-size="20.5" font-weight="normal" text-anchor="middle" fill="#111" stroke="#111" stroke-width="0.2" >0</text>
<text x="273.7" y="1225.9" font-size="20.5" font-weight="normal" text-anchor="middle" fill="#111" stroke="#111" stroke-width="0.2" >30</text>
<text x="412.2" y="1225.9" font-size="20.5" font-weight="normal" text-anchor="middle" fill="#111" stroke="#111" stroke-width="0.2" >60</text>
<text x="550.8" y="1225.9" font-size="20.5" font-weight="normal" text-anchor="middle" fill="#111" stroke="#111" stroke-width="0.2" >90</text>
<text x="689.3" y="1225.9" font-size="20.5" font-weight="normal" text-anchor="middle" fill="#111" stroke="#111" stroke-width="0.2" >120</text>
<text x="135.2" y="62.3" font-size="20.5" font-weight="normal" text-anchor="middle" fill="#111" stroke="#111" stroke-width="0.2" >25</text>
<text x="185.8" y="62.3" font-size="20.5" font-weight="normal" text-anchor="middle" fill="#111" stroke="#111" stroke-width="0.2" >25</text>
<text x="227.5" y="62.3" font-size="20.5" font-weight="normal" text-anchor="middle" fill="#111" stroke="#111" stroke-width="0.2" >125</text>
<text x="319.9" y="62.3" font-size="20.5" font-weight="normal" text-anchor="middle" fill="#111" stroke="#111" stroke-width="0.2" >325</text>
<text x="412.2" y="62.3" font-size="20.5" font-weight="normal" text-anchor="middle" fill="#111" stroke="#111" stroke-width="0.2" >525</text>
<text x="504.6" y="62.3" font-size="20.5" font-weight="normal" text-anchor="middle" fill="#111" stroke="#111" stroke-width="0.2" >725</text>
<text x="597.0" y="62.3" font-size="20.5" font-weight="normal" text-anchor="middle" fill="#111" stroke="#111" stroke-width="0.2" >925</text>
<text x="689.3" y="62.3" font-size="20.5" font-weight="normal" text-anchor="middle" fill="#111" stroke="#111" stroke-width="0.2" >1125</text>
<text x="412.5" y="33.3" font-size="25" font-weight="normal" text-anchor="middle" fill="#111" stroke="#111" stroke-width="0.2" >Temperature [°C]</text>
<text x="411.7" y="1263.1" font-size="25" font-weight="normal" text-anchor="middle" fill="#111" stroke="#111" stroke-width="0.2" >Time [min]</text>
<text x="0.0" y="0.0" font-size="25" font-weight="normal" text-anchor="middle" fill="#111" stroke="#111" stroke-width="0.2" transform="translate(31.8,143.1) rotate(-90)">m [%]</text>
<text x="0.0" y="0.0" font-size="25" font-weight="normal" text-anchor="middle" fill="#111" stroke="#111" stroke-width="0.2" transform="translate(31.8,435.0) rotate(-90)">m [%]</text>
<text x="0.0" y="0.0" font-size="25" font-weight="normal" text-anchor="middle" fill="#111" stroke="#111" stroke-width="0.2" transform="translate(31.8,717.0) rotate(-90)">m [%]</text>
<text x="0.0" y="0.0" font-size="25" font-weight="normal" text-anchor="middle" fill="#111" stroke="#111" stroke-width="0.2" transform="translate(31.8,995.8) rotate(-90)">m [%]</text>
<text x="0.0" y="0.0" font-size="25" font-weight="normal" text-anchor="middle" fill="#111" stroke="#111" stroke-width="0.2" transform="translate(32.4,287.3) rotate(-90)">I<tspan dy="4.5" font-size="23.5">Z</tspan><tspan dy="-4.5"> [nA]</tspan></text>
<text x="0.0" y="0.0" font-size="25" font-weight="normal" text-anchor="middle" fill="#111" stroke="#111" stroke-width="0.2" transform="translate(32.4,572.0) rotate(-90)">I<tspan dy="4.5" font-size="23.5">Z</tspan><tspan dy="-4.5"> [nA]</tspan></text>
<text x="0.0" y="0.0" font-size="25" font-weight="normal" text-anchor="middle" fill="#111" stroke="#111" stroke-width="0.2" transform="translate(32.4,854.6) rotate(-90)">I<tspan dy="4.5" font-size="23.5">Z</tspan><tspan dy="-4.5"> [nA]</tspan></text>
<text x="0.0" y="0.0" font-size="25" font-weight="normal" text-anchor="middle" fill="#111" stroke="#111" stroke-width="0.2" transform="translate(32.4,1134.5) rotate(-90)">I<tspan dy="4.5" font-size="23.5">Z</tspan><tspan dy="-4.5"> [nA]</tspan></text>
<rect x="113.3" y="119.4" width="239.3" height="40.6" fill="#fff" stroke="#444" stroke-width="1.4"/>
<text x="120.4" y="145.0" font-size="25" font-weight="bold" text-anchor="start" fill="#000" >(a) Reference: Li<tspan dy="6" font-size="70%">2</tspan><tspan dy="-6">O</tspan></text>
<rect x="108.7" y="411.5" width="249.5" height="35.0" fill="#fff" stroke="#444" stroke-width="1.4"/>
<text x="115.5" y="436.7" font-size="25" font-weight="bold" text-anchor="start" fill="#000" >(b) Reference: LiOH</text>
<rect x="110.1" y="691.3" width="268.5" height="33.9" fill="#fff" stroke="#444" stroke-width="1.4"/>
<text x="116.9" y="715.5" font-size="25" font-weight="bold" text-anchor="start" fill="#000" >(c) Reference: Li<tspan dy="6" font-size="70%">2</tspan><tspan dy="-6">CO</tspan><tspan dy="6" font-size="70%">3</tspan></text>
<rect x="110.0" y="996.0" width="298.8" height="34.2" fill="#fff" stroke="#444" stroke-width="1.4"/>
<text x="117.6" y="1021.0" font-size="25" font-weight="bold" text-anchor="start" fill="#000" >(d) Reference: Wet Li<tspan dy="6" font-size="70%">2</tspan><tspan dy="-6">O</tspan></text>
<rect x="555.9" y="117.6" width="165.6" height="25.6" fill="#fff" stroke="#444" stroke-width="1.4"/>
<line x1="557.8" y1="130.7" x2="604.2" y2="130.7" stroke="#000" stroke-width="3.6"/>
<text x="608.8" y="137.5" font-size="21" font-weight="normal" text-anchor="start" fill="#111" stroke="#111" stroke-width="0.2" >Weight loss</text>
<rect x="523.1" y="148.7" width="198.4" height="96.9" fill="#fff" stroke="#444" stroke-width="1.4"/>
<line x1="528.3" y1="163.0" x2="575.5" y2="163.0" stroke="#4A78CC" stroke-width="3.5" stroke-linecap="round"/>
<text x="580.7" y="169.8" font-size="20.4" font-weight="normal" text-anchor="start" fill="#111" stroke="#111" stroke-width="0.2" >H<tspan dy="5" font-size="70%">2</tspan><tspan dy="-5">O (m/z = 18)</tspan></text>
<line x1="528.3" y1="192.3" x2="575.5" y2="192.3" stroke="#1EC8C8" stroke-width="3.5" stroke-linecap="round"/>
<text x="580.7" y="199.1" font-size="20.4" font-weight="normal" text-anchor="start" fill="#111" stroke="#111" stroke-width="0.2" >O<tspan dy="5" font-size="70%">2</tspan><tspan dy="-5"> (m/z = 32)</tspan></text>
<line x1="528.3" y1="222.0" x2="575.5" y2="222.0" stroke="#E422E4" stroke-width="3.5" stroke-linecap="round"/>
<text x="580.7" y="228.8" font-size="20.4" font-weight="normal" text-anchor="start" fill="#111" stroke="#111" stroke-width="0.2" >CO<tspan dy="5" font-size="70%">2</tspan><tspan dy="-5"> (m/z = 44)</tspan></text>
<text x="466.3" y="124.6" font-size="25" font-weight="bold" text-anchor="start" fill="#000" >0.7%</text>
<text x="273.2" y="224.4" font-size="24.6" font-weight="bold" text-anchor="start" fill="#000" >125 - 625°C</text>
<text x="203.7" y="281.4" font-size="25" font-weight="bold" text-anchor="start" fill="#000" >I</text>
<text x="336.5" y="281.4" font-size="25" font-weight="bold" text-anchor="start" fill="#000" >II</text>
<text x="519.7" y="281.8" font-size="25" font-weight="bold" text-anchor="start" fill="#000" >III</text>
<text x="324.1" y="332.9" font-size="24.5" font-weight="bold" text-anchor="start" fill="#4A78CC" >H<tspan dx="0.6" dy="7.2" font-size="64%">2</tspan><tspan dx="0.4" dy="-7.2">O</tspan></text>
<text x="604.5" y="331.3" font-size="24.5" font-weight="bold" text-anchor="start" fill="#E422E4" >CO<tspan dx="0.5" dy="7.2" font-size="64%">2</tspan></text>
<text x="691.1" y="340.0" font-size="24.5" font-weight="bold" text-anchor="start" fill="#1EC8C8" >O<tspan dx="0.5" dy="7.2" font-size="64%">2</tspan></text>
<text x="470.0" y="422.5" font-size="25" font-weight="bold" text-anchor="start" fill="#000" >37%</text>
<text x="366.4" y="457.5" font-size="25" font-weight="bold" text-anchor="start" fill="#000" >400°C</text>
<text x="348.4" y="530.0" font-size="17.5" font-weight="bold" text-anchor="start" fill="#4A78CC" >0.4x</text>
<text x="390.9" y="530.4" font-size="24.5" font-weight="bold" text-anchor="start" fill="#4A78CC" >H<tspan dx="0.6" dy="7.2" font-size="64%">2</tspan><tspan dx="0.4" dy="-7.2">O</tspan></text>
<text x="603.7" y="614.7" font-size="24.5" font-weight="bold" text-anchor="start" fill="#E422E4" >CO<tspan dx="0.5" dy="7.2" font-size="64%">2</tspan></text>
<text x="691.5" y="621.2" font-size="24.5" font-weight="bold" text-anchor="start" fill="#1EC8C8" >O<tspan dx="0.5" dy="7.2" font-size="64%">2</tspan></text>
<text x="472.5" y="742.6" font-size="25" font-weight="bold" text-anchor="start" fill="#000" >725°C</text>
<text x="636.9" y="718.7" font-size="25" font-weight="bold" text-anchor="start" fill="#000" >60%</text>
<text x="565.5" y="801.7" font-size="24.5" font-weight="bold" text-anchor="start" fill="#E422E4" >CO<tspan dx="0.5" dy="7.2" font-size="64%">2</tspan></text>
<text x="324.5" y="885.0" font-size="24.5" font-weight="bold" text-anchor="start" fill="#4A78CC" >H<tspan dx="0.6" dy="7.2" font-size="64%">2</tspan><tspan dx="0.4" dy="-7.2">O</tspan></text>
<text x="692.1" y="895.5" font-size="24.5" font-weight="bold" text-anchor="start" fill="#1EC8C8" >O<tspan dx="0.5" dy="7.2" font-size="64%">2</tspan></text>
<text x="236.1" y="986.3" font-size="25" font-weight="bold" text-anchor="start" fill="#000" >7%</text>
<text x="478.9" y="1002.5" font-size="25" font-weight="bold" text-anchor="start" fill="#000" >14%</text>
<text x="635.8" y="978.8" font-size="25" font-weight="bold" text-anchor="start" fill="#000" >35%</text>
<text x="113.5" y="1076.2" font-size="25" font-weight="bold" text-anchor="start" fill="#000" >adsorbed H<tspan dy="6.5" font-size="64%">2</tspan><tspan dy="-6.5">O</tspan></text>
<text x="222.5" y="1121.3" font-size="24.5" font-weight="bold" text-anchor="start" fill="#4A78CC" >H<tspan dx="0.6" dy="7.2" font-size="64%">2</tspan><tspan dx="0.4" dy="-7.2">O</tspan></text>
<text x="380.2" y="1111.8" font-size="25" font-weight="bold" text-anchor="start" fill="#000" >LiOH</text>
<text x="544.2" y="1056.2" font-size="25" font-weight="bold" text-anchor="start" fill="#000" >Li<tspan dy="5.5" font-size="64%">2</tspan><tspan dy="-5.5">CO</tspan><tspan dy="5.5" font-size="64%">3</tspan></text>
<text x="597.9" y="1138.8" font-size="24.5" font-weight="bold" text-anchor="start" fill="#E422E4" >CO<tspan dx="0.5" dy="7.2" font-size="64%">2</tspan></text>
<text x="692.1" y="1162.8" font-size="24.5" font-weight="bold" text-anchor="start" fill="#1EC8C8" >O<tspan dx="0.5" dy="7.2" font-size="64%">2</tspan></text>
<polygon points="459.2,92.8 455.5,82.3 462.9,82.3" fill="#000"/>
<polygon points="459.2,97.2 462.9,109.2 455.5,109.2" fill="#000"/>
<line x1="459.2" y1="80" x2="459.2" y2="85" stroke="#222" stroke-width="1.5"/>
<line x1="459.2" y1="105" x2="459.2" y2="110" stroke="#222" stroke-width="1.5"/>
<line x1="459.1" y1="390.1" x2="459.1" y2="440.2" stroke="#222" stroke-width="1.5"/>
<polygon points="459.1,387.1 462.4,397.1 455.8,397.1" fill="#000"/>
<polygon points="459.1,443.2 455.8,433.2 462.4,433.2" fill="#000"/>
<line x1="384.1" y1="430.3" x2="371.1" y2="403.1" stroke="#000" stroke-width="2.4"/>
<polygon points="366.6,393.7 375.8,403.7 368.6,407.2" fill="#000"/>
<line x1="503.1" y1="714.5" x2="503.1" y2="685.5" stroke="#000" stroke-width="2.4"/>
<polygon points="503.1,675.1 507.4,688.1 498.9,688.1" fill="#000"/>
<line x1="689.6" y1="673.3" x2="689.6" y2="761.3" stroke="#222" stroke-width="1.5"/>
<polygon points="689.6,670.3 692.9,680.3 686.3,680.3" fill="#000"/>
<polygon points="689.6,764.3 686.3,754.3 692.9,754.3" fill="#000"/>
<polygon points="225.9,945.8 222.6,935.8 229.2,935.8" fill="#000"/>
<polygon points="225.9,959.6 229.2,969.1 222.6,969.1" fill="#000"/>
<line x1="225.9" y1="937" x2="225.9" y2="969" stroke="#222" stroke-width="1.5"/>
<line x1="503.3" y1="950.8" x2="503.3" y2="967.7" stroke="#222" stroke-width="1.5"/>
<polygon points="503.3,947.8 506.6,957.3 500.1,957.3" fill="#000"/>
<polygon points="503.3,970.7 500.1,961.2 506.6,961.2" fill="#000"/>
<line x1="689.4" y1="951.2" x2="689.4" y2="999.6" stroke="#222" stroke-width="1.5"/>
<polygon points="689.4,948.2 692.7,958.2 686.1,958.2" fill="#000"/>
<polygon points="689.4,1002.6 686.1,992.6 692.7,992.6" fill="#000"/>
<line x1="182.1" y1="1086.3" x2="196.8" y2="1109.8" stroke="#000" stroke-width="2.4"/>
<polygon points="202.3,1118.6 192.0,1109.7 198.8,1105.5" fill="#000"/>
<line x1="420.6" y1="1126.3" x2="435.4" y2="1150.5" stroke="#000" stroke-width="2.4"/>
<polygon points="440.8,1159.4 430.6,1150.4 437.4,1146.2" fill="#000"/>
<line x1="619.9" y1="1073.8" x2="633.6" y2="1097.9" stroke="#000" stroke-width="2.4"/>
<polygon points="638.8,1106.9 628.9,1097.6 635.8,1093.6" fill="#000"/>
</svg>
</body></html>
